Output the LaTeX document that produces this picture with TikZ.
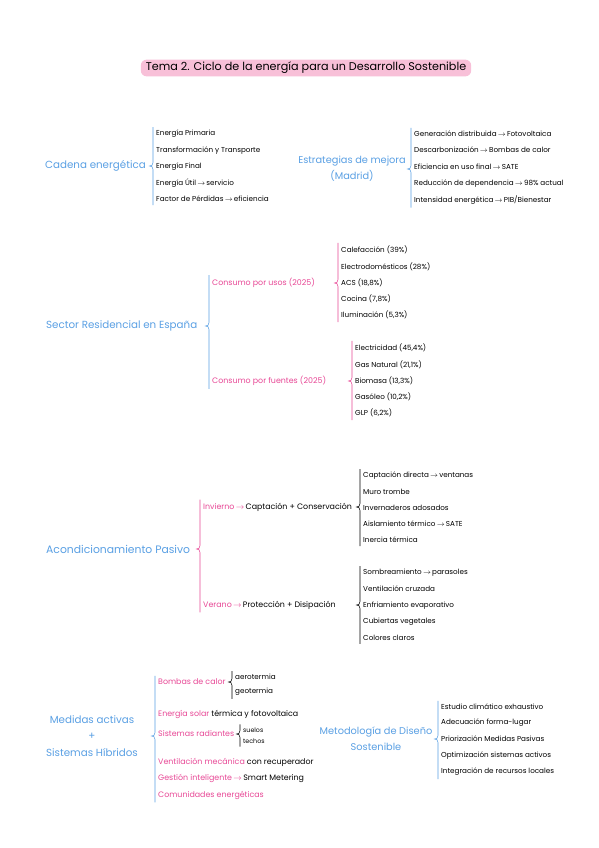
\documentclass[tikz,border=0pt]{standalone}
\usepackage{fontspec}
\setmainfont{Poppins}
\usetikzlibrary{calc}
\definecolor{azul}{RGB}{90,160,228}
\definecolor{rosa}{RGB}{232,72,150}
\definecolor{marca}{RGB}{248,192,216}
\tikzset{
  tema/.style={text=azul,font=\fontsize{10.3}{16.5}\selectfont,align=center,inner sep=1pt},
  sub/.style={text=rosa,font=\fontsize{7.9}{9}\selectfont,anchor=west,inner sep=1pt},
  item/.style={text=black,font=\fontsize{7.2}{8}\selectfont,anchor=west,inner sep=1pt},
  mini/.style={item,font=\fontsize{6.3}{7}\selectfont},
  llave/.style={line width=0.55pt},
}
\newcommand{\flecha}{\,$\rightarrow$\,}
% llave: color, padre, primero, ultimo
\newcommand{\llave}[4]{%
  \coordinate (ll) at ($(#3.west |- #2.east)+(-2pt,0pt)$);
  \draw[llave,#1] ($(#3.north west)+(-2pt,2pt)$) -- ($(ll)+(0pt,3.5pt)$)
    .. controls ($(ll)+(0pt,0.8pt)$) and ($(ll)+(-1.5pt,0pt)$) .. ($(ll)+(-3.5pt,0pt)$)
    .. controls ($(ll)+(-1.5pt,0pt)$) and ($(ll)+(0pt,-0.8pt)$) .. ($(ll)+(0pt,-3.5pt)$)
    -- ($(#4.south west)+(-2pt,-2pt)$);}
\begin{document}
\begin{tikzpicture}[x=1pt,y=-1pt]
\fill[white] (0,0) rectangle (599,848);
\useasboundingbox (0,0) rectangle (599,848);
%titulo
\node[fill=marca,rounded corners=6pt,inner xsep=5pt,inner ysep=2.5pt,font=\fontsize{11.2}{13}\selectfont] (titulo) at (306,68) {Tema 2. Ciclo de la energía para un Desarrollo Sostenible};
%cadena energetica
\node[tema,anchor=west] (cadena) at (44,166) {Cadena energética};
\node[item] (cad1) at (155,134) {Energía Primaria};
\node[item] (cad2) at (155,151) {Transformación y Transporte};
\node[item] (cad3) at (155,167) {Energía Final};
\node[item] (cad4) at (155,183) {Energía Útil\flecha servicio};
\node[item] (cad5) at (155,199) {Factor de Pérdidas\flecha eficiencia};
\llave{azul}{cadena}{cad1}{cad5}
%estrategias
\node[tema,font=\fontsize{9.8}{16}\selectfont] (estrat) at (352,169) {Estrategias de mejora\\(Madrid)};
\node[item] (est1) at (413,134) {Generación distribuida\flecha Fotovoltaica};
\node[item] (est2) at (413,150) {Descarbonización\flecha Bombas de calor};
\node[item] (est3) at (413,167) {Eficiencia en uso final\flecha SATE};
\node[item] (est4) at (413,184) {Reducción de dependencia\flecha 98\% actual};
\node[item] (est5) at (413,200) {Intensidad energética\flecha PIB/Bienestar};
\llave{azul}{estrat}{est1}{est5}
%sector residencial
\node[tema,anchor=west] (sector) at (45,326) {Sector Residencial en España};
\node[sub] (usos) at (211,283) {Consumo por usos (2025)};
\node[sub] (fuentes) at (211,381) {Consumo por fuentes (2025)};
\llave{azul}{sector}{usos}{fuentes}
\node[item] (uso1) at (340,250) {Calefacción (39\%)};
\node[item] (uso2) at (340,267) {Electrodomésticos (28\%)};
\node[item] (uso3) at (340,283) {ACS (18,8\%)};
\node[item] (uso4) at (340,299) {Cocina (7,8\%)};
\node[item] (uso5) at (340,315) {Iluminación (5,3\%)};
\llave{rosa}{usos}{uso1}{uso5}
\node[item] (fue1) at (354,348) {Electricidad (45,4\%)};
\node[item] (fue2) at (354,365) {Gas Natural (21,1\%)};
\node[item] (fue3) at (354,381) {Biomasa (13,3\%)};
\node[item] (fue4) at (354,397) {Gasóleo (10,2\%)};
\node[item] (fue5) at (354,413) {GLP (6,2\%)};
\llave{rosa}{fuentes}{fue1}{fue5}
%acondicionamiento pasivo
\node[tema,anchor=west,font=\fontsize{10.8}{16}\selectfont] (acond) at (45,549) {Acondicionamiento Pasivo};
\node[sub] (invierno) at (202,507) {Invierno\flecha\textcolor{black}{Captación + Conservación}};
\node[sub] (verano) at (202,605) {Verano\flecha\textcolor{black}{Protección + Disipación}};
\llave{rosa}{acond}{invierno}{verano}
\node[item] (inv1) at (362,476) {Captación directa\flecha ventanas};
\node[item] (inv2) at (362,492) {Muro trombe};
\node[item] (inv3) at (362,508) {Invernaderos adosados};
\node[item] (inv4) at (362,524) {Aislamiento térmico\flecha SATE};
\node[item] (inv5) at (362,540) {Inercia térmica};
\llave{black}{invierno}{inv1}{inv5}
\node[item] (ver1) at (362,573) {Sombreamiento\flecha parasoles};
\node[item] (ver2) at (362,589) {Ventilación cruzada};
\node[item] (ver3) at (362,606) {Enfriamiento evaporativo};
\node[item] (ver4) at (362,622) {Cubiertas vegetales};
\node[item] (ver5) at (362,638) {Colores claros};
\llave{black}{verano}{ver1}{ver5}
%medidas activas
\node[tema] (activas) at (92,736) {Medidas activas\\+\\Sistemas Híbridos};
\node[sub] (act1) at (157,682) {Bombas de calor};
\node[sub] (act2) at (157,714) {Energía solar \textcolor{black}{térmica y fotovoltaica}};
\node[sub] (act3) at (157,734) {Sistemas radiantes};
\node[sub] (act4) at (157,762) {Ventilación mecánica \textcolor{black}{con recuperador}};
\node[sub] (act5) at (157,778) {Gestión inteligente\flecha\textcolor{black}{Smart Metering}};
\node[sub] (act6) at (157,795) {Comunidades energéticas};
\llave{azul}{activas}{act1}{act6}
\node[item] (bom1) at (234,677) {aerotermia};
\node[item] (bom2) at (234,692) {geotermia};
\llave{black}{act1}{bom1}{bom2}
\node[mini] (rad1) at (242,730) {suelos};
\node[mini] (rad2) at (242,741) {techos};
\llave{black}{act3}{rad1}{rad2}
%metodologia
\node[tema,font=\fontsize{9.8}{16}\selectfont] (metodo) at (376,739) {Metodología de Diseño\\Sostenible};
\node[item] (met1) at (440,707) {Estudio climático exhaustivo};
\node[item] (met2) at (440,723) {Adecuación forma-lugar};
\node[item] (met3) at (440,739) {Priorización Medidas Pasivas};
\node[item] (met4) at (440,756) {Optimización sistemas activos};
\node[item] (met5) at (440,772) {Integración de recursos locales};
\llave{azul}{metodo}{met1}{met5}
\end{tikzpicture}
\end{document}
